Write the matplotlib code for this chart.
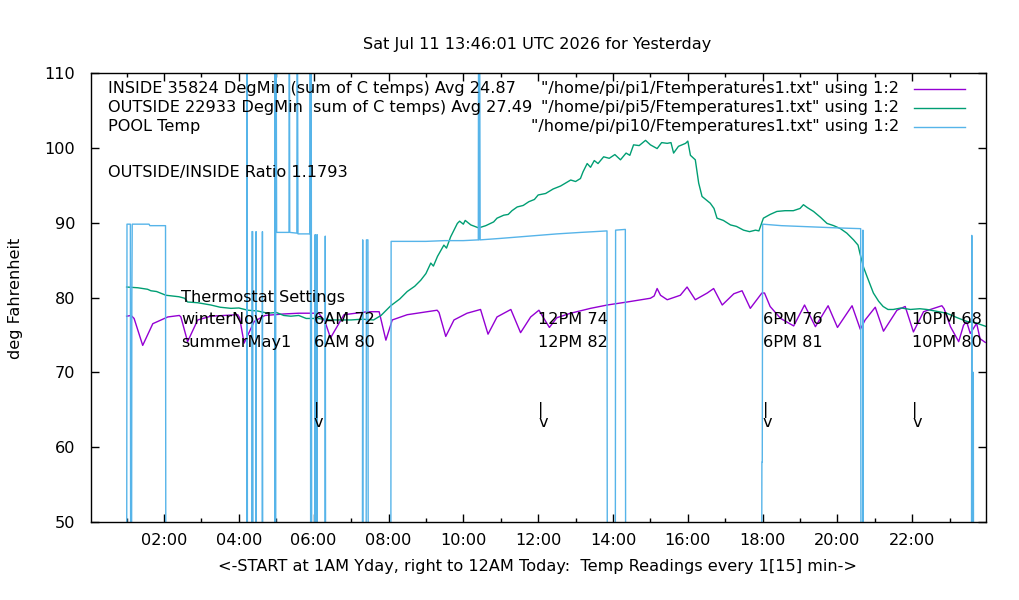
import matplotlib
matplotlib.use("Agg")
import matplotlib.pyplot as plt
from matplotlib.lines import Line2D

plt.rcParams['font.family'] = ['DejaVu Sans']

# ---------------- data (hours since midnight, deg F) ----------------
inside_h = [1.0, 1.12, 1.2, 1.43, 1.7, 2.1, 2.41, 2.45, 2.63, 2.9, 3.25, 3.97, 4.02, 4.14, 4.41,
            4.7, 5.2, 5.6, 6.0, 6.12, 6.3, 6.45, 6.81, 7.44, 7.75, 7.93, 8.1, 8.5, 9.3, 9.35, 9.53,
            9.75, 10.1, 10.46, 10.66, 10.9, 11.27, 11.53, 11.8, 12.02, 12.3, 12.5, 12.87, 13.4,
            13.85, 14.38, 15.0, 15.1, 15.18, 15.27, 15.45, 15.8, 15.98, 16.2, 16.52, 16.69, 16.92,
            17.23, 17.45, 17.67, 17.98, 18.05, 18.2, 18.48, 18.83, 19.12, 19.41, 19.75, 20.0,
            20.39, 20.61, 20.74, 21.01, 21.23, 21.59, 21.81, 22.03, 22.3, 22.79, 22.85, 23.02,
            23.24, 23.37, 23.45, 23.55, 23.72, 23.81, 23.95]
inside_t = [77.5, 77.6, 77.2, 73.6, 76.5, 77.4, 77.6, 77.4, 74.1, 77.0, 77.5, 77.7, 77.3, 73.9, 76.8,
            77.6, 77.8, 77.9, 77.9, 78.0, 76.8, 74.6, 77.7, 78.1, 78.1, 74.3, 77.0, 77.7, 78.3, 78.0, 74.8,
            77.0, 77.9, 78.4, 75.1, 77.4, 78.4, 75.3, 77.4, 78.3, 76.0, 77.3, 77.9, 78.55,
            79.0, 79.4, 79.9, 80.2, 81.2, 80.3, 79.7, 80.3, 81.4, 79.7, 80.6, 81.2, 79.0,
            80.5, 80.9, 78.55, 80.6, 80.6, 78.8, 77.2, 76.2, 79.0, 76.1, 78.9, 76.0,
            78.9, 75.75, 77.0, 78.7, 75.5, 78.3, 78.8, 75.4, 78.1, 78.9, 78.5, 76.1,
            74.1, 76.3, 76.8, 75.2, 76.55, 74.5, 74.0]

outside_h = [1.0, 1.3, 1.56, 1.65, 1.8, 2.05, 2.4, 2.55, 2.63, 2.9, 3.25, 3.5, 3.79, 4.0, 4.24, 4.5,
             4.77, 5.0, 5.2, 5.39, 5.6, 5.8, 6.1, 6.46, 7.0, 7.3, 7.6, 7.8, 8.06, 8.3, 8.5, 8.7,
             8.86, 9.0, 9.13, 9.2, 9.31, 9.48, 9.55, 9.66, 9.84, 9.9, 10.0, 10.05, 10.2, 10.41,
             10.6, 10.81, 10.9, 11.08, 11.2, 11.3, 11.44, 11.6, 11.75, 11.9, 12.0, 12.2, 12.4,
             12.6, 12.87, 13.0, 13.13, 13.2, 13.31, 13.4, 13.5, 13.6, 13.75, 13.9, 14.05, 14.2,
             14.35, 14.45, 14.55, 14.7, 14.87, 15.0, 15.18, 15.3, 15.45, 15.55, 15.62, 15.75,
             15.94, 16.0, 16.07, 16.2, 16.29, 16.38, 16.5, 16.6, 16.7, 16.78, 16.95, 17.14, 17.3,
             17.49, 17.65, 17.81, 17.9, 18.02, 18.2, 18.38, 18.6, 18.82, 19.0, 19.09, 19.2, 19.36,
             19.55, 19.72, 19.9, 20.08, 20.25, 20.43, 20.55, 20.6, 20.7, 20.79, 20.96, 21.1,
             21.22, 21.35, 21.49, 21.7, 21.95, 22.2, 22.39, 22.6, 22.92, 23.2, 23.46, 23.7, 23.99]
outside_t = [81.4, 81.3, 81.1, 80.9, 80.8, 80.3, 80.1, 79.9, 79.4, 79.3, 79.0, 78.7, 78.55, 78.6, 78.3, 78.2,
             77.9, 78.0, 77.6, 77.5, 77.6, 77.2, 77.2, 77.0, 77.0, 77.1, 77.0, 77.6, 78.9, 79.8, 80.8, 81.5,
             82.3, 83.2, 84.6, 84.2, 85.5, 87.0, 86.6, 88.1, 89.9, 90.2, 89.8, 90.3, 89.7, 89.3,
             89.6, 90.1, 90.6, 91.0, 91.1, 91.6, 92.1, 92.3, 92.8, 93.1, 93.7, 93.9, 94.5,
             94.9, 95.7, 95.5, 95.9, 96.8, 97.9, 97.4, 98.3, 97.9, 98.8, 98.6, 99.1, 98.4,
             99.3, 99.0, 100.4, 100.3, 101.0, 100.4, 99.9, 100.7, 100.6, 100.7, 99.3, 100.2,
             100.6, 100.9, 99.0, 98.4, 95.3, 93.5, 93.0, 92.6, 91.9, 90.6, 90.3, 89.7, 89.5,
             89.0, 88.8, 89.0, 88.9, 90.6, 91.1, 91.5, 91.6, 91.6, 91.9, 92.4, 92.0, 91.5,
             90.7, 89.9, 89.6, 89.2, 88.6, 87.7, 87.0, 85.9, 84.0, 82.8, 80.6, 79.5,
             78.8, 78.4, 78.4, 78.6, 78.4, 78.5, 78.4, 78.2, 77.9, 77.3, 76.8, 76.6, 76.1]

pool_h = [1.00, 1.01, 1.10, 1.11, 1.13, 1.14, 1.15, 1.60, 1.62, 2.04, 2.05,
          4.21, 4.22, 4.23, 4.34, 4.35, 4.37, 4.38, 4.45, 4.46, 4.47, 4.62, 4.63, 4.64,
          4.96, 4.97, 4.98, 4.99, 5.01, 5.34, 5.35, 5.36, 5.55, 5.56, 5.58, 5.90, 5.91, 5.92, 5.93, 5.95,
          6.03, 6.04, 6.05, 6.08, 6.09, 6.10, 6.30, 6.31, 6.32,
          7.30, 7.31, 7.32, 7.40, 7.41, 7.45, 7.46,
          8.06, 8.07, 9.0, 9.5, 10.0, 10.40, 10.41, 10.42, 10.43, 10.45, 11.0, 11.5, 12.0, 12.5,
          13.14, 13.5, 13.84, 13.85, 14.06, 14.07, 14.33, 14.34,
          17.97, 17.98, 17.99, 18.0, 18.5, 19.0, 19.5, 20.0, 20.62, 20.63, 20.67, 20.68, 20.69,
          23.58, 23.59, 23.60, 23.62, 23.63, 23.64, 24.0]
pool_t = [30, 89.8, 89.8, 30, 30, 79.8, 89.8, 89.8, 89.6, 89.6, 30,
          30, 130, 30, 30, 88.8, 88.8, 30, 30, 88.8, 30, 30, 88.8, 30,
          30, 130, 30, 130, 88.7, 88.7, 130, 88.7, 88.6, 130, 88.5, 88.5, 130, 30, 130, 30,
          30, 88.4, 30, 30, 88.4, 30, 30, 88.2, 30,
          30, 87.7, 30, 30, 87.7, 87.7, 30,
          30, 87.5, 87.5, 87.6, 87.6, 87.7, 130, 87.7, 130, 87.7, 87.9, 88.1, 88.3, 88.5,
          88.7, 88.8, 88.9, 30, 30, 89.0, 89.1, 30,
          30, 58, 58, 89.8, 89.6, 89.5, 89.4, 89.3, 89.2, 30, 30, 89.0, 30,
          30, 88.3, 30, 30, 70, 30, 30]

xticks = list(range(2, 24, 2))
xtick_labels = ["%02d:00" % h for h in xticks]
yticks = [50, 60, 70, 80, 90, 100, 110]

legend_labels = ['"/home/pi/pi1/Ftemperatures1.txt" using 1:2',
                 '"/home/pi/pi5/Ftemperatures1.txt" using 1:2',
                 '"/home/pi/pi10/Ftemperatures1.txt" using 1:2']
info_lines = ["INSIDE 35824 DegMin (sum of C temps) Avg 24.87",
              "OUTSIDE 22933 DegMin  sum of C temps) Avg 27.49",
              "POOL Temp"]
ratio_text = "OUTSIDE/INSIDE Ratio 1.1793"
setting_times = [6, 12, 18, 22]
winter_labels = ["6AM 72", "12PM 74", "6PM 76", "10PM 68"]
summer_labels = ["6AM 80", "12PM 82", "6PM 81", "10PM 80"]

C_IN, C_OUT, C_POOL = "#9400d3", "#009e73", "#56b4e9"
FS = 11.6

W, H = 1020, 600
fig = plt.figure(figsize=(W / 100, H / 100), dpi=100)
L, R, T, B = 90.7, 986.0, 73.0, 522.0
ax = fig.add_axes([L / W, 1 - B / H, (R - L) / W, (B - T) / H])

def fx(x):
    return x / W

def fy(y):
    return 1 - y / H

ax.plot(inside_h, inside_t, color=C_IN, lw=1.0)
ax.plot(outside_h, outside_t, color=C_OUT, lw=1.0)
ax.plot(pool_h, pool_t, color=C_POOL, lw=1.0)

ax.set_xlim(0.04, 23.97)
ax.set_ylim(50, 110)
ax.set_xticks(xticks)
ax.set_xticklabels(xtick_labels)
ax.set_xticks(range(1, 24), minor=True)
ax.set_yticks(yticks)
ax.set_yticklabels([str(v) for v in yticks])
ax.tick_params(which='major', direction='in', top=True, right=True, length=6, width=1,
               labelsize=FS, colors='black')
ax.tick_params(axis='x', which='major', pad=8)
ax.tick_params(axis='y', which='major', pad=11)
ax.tick_params(which='minor', direction='in', top=True, right=False, length=3, width=1)
ax.tick_params(axis='y', which='minor', left=False, right=False)
for s in ax.spines.values():
    s.set_linewidth(1)
    s.set_color('black')

# thermostat settings labels
ax.text(2.45, 80, "Thermostat Settings", fontsize=FS, va='center', ha='left')
ax.text(2.45, 77, "winterNov1", fontsize=FS, va='center', ha='left')
ax.text(2.45, 74, "summerMay1", fontsize=FS, va='center', ha='left')
for h, w, s in zip(setting_times, winter_labels, summer_labels):
    ax.text(h, 77, w, fontsize=FS, va='center', ha='left')
    ax.text(h, 74, s, fontsize=FS, va='center', ha='left')
    ax.text(h, 64.2, "|\nv", fontsize=FS, va='center', ha='left', linespacing=0.75)

# info labels (top-left)
for i, t in enumerate(info_lines):
    fig.text(fx(108), fy(89 + 19 * i), t, fontsize=FS, va='center', ha='left')
fig.text(fx(108), fy(172), ratio_text, fontsize=FS, va='center', ha='left')

# key (top-right)
for i, (lab, c) in enumerate(zip(legend_labels, [C_IN, C_OUT, C_POOL])):
    yy = 89 + 19 * i
    fig.text(fx(899), fy(yy), lab, fontsize=FS, va='center', ha='right')
    fig.add_artist(Line2D([fx(914), fx(965)], [fy(yy), fy(yy)], color=c, lw=1.0,
                          transform=fig.transFigure))

fig.text(fx(537), fy(44), "Sat Jul 11 13:46:01 UTC 2026 for Yesterday", fontsize=FS,
         ha='center', va='center')
fig.text(fx(537), fy(567),
         "<-START at 1AM Yday, right to 12AM Today:  Temp Readings every 1[15] min->",
         fontsize=FS, ha='center', va='center')
fig.text(fx(16), fy(298), "deg Fahrenheit", fontsize=FS, ha='center', va='center',
         rotation=90)

fig.savefig("out.png", dpi=100)
